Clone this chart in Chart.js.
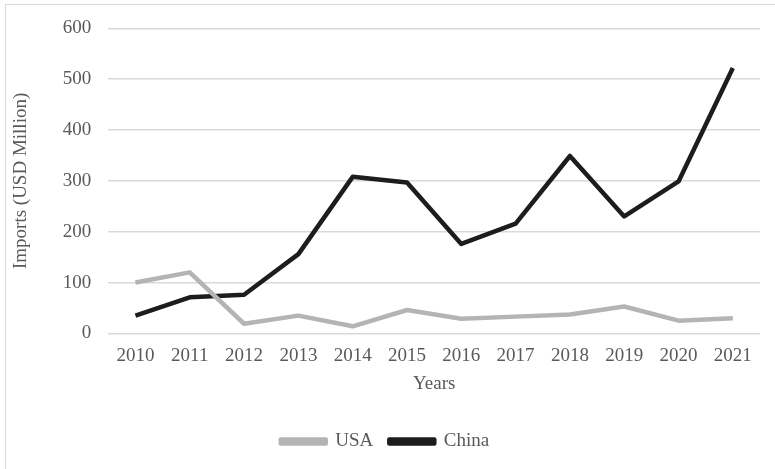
<!DOCTYPE html>
<html>
<head>
<meta charset="utf-8">
<script src="https://cdn.jsdelivr.net/npm/chart.js@4"></script>
<style>
  html, body { margin: 0; padding: 0; background: #fff; overflow: hidden; }
  #wrap { position: relative; width: 775px; height: 469px; overflow: hidden; }
  #frame { position: absolute; left: 5px; top: 4px; width: 800px; height: 500px; border: 1px solid #d9d9d9; box-sizing: border-box; }
  #pollChart { position: absolute; left: 0; top: 0; }
</style>
</head>
<body>
<div id="wrap">
  <div id="frame"></div>
  <canvas id="pollChart" width="775" height="469"></canvas>
</div>
<script>
// Data
const years = ['2010', '2011', '2012', '2013', '2014', '2015', '2016', '2017', '2018', '2019', '2020', '2021'];
const usaData = [100, 120, 19, 35, 14, 46, 29, 33, 37, 53, 25, 30];
const chinaData = [35, 71, 76, 156, 308, 297, 176, 216, 349, 230, 299, 522];

const textColor = '#595959';
const serif = "'Liberation Serif', 'Times New Roman', serif";

Chart.defaults.font.family = serif;
Chart.defaults.font.size = 19;
Chart.defaults.color = textColor;

const ctx = document.getElementById('pollChart').getContext('2d');
const chart = new Chart(ctx, {
    type: 'line',
    data: {
        labels: years,
        datasets: [
            {
                label: 'USA',
                data: usaData,
                borderColor: '#b4b4b6',
                backgroundColor: '#b4b4b6',
                borderWidth: 4.5,
                pointRadius: 0,
                tension: 0,
                fill: false,
            },
            {
                label: 'China',
                data: chinaData,
                borderColor: '#1f1c1d',
                backgroundColor: '#1f1c1d',
                borderWidth: 4.5,
                pointRadius: 0,
                tension: 0,
                fill: false,
            }
        ]
    },
    options: {
        responsive: false,
        animation: false,
        borderJoinStyle: 'round',
        layout: {
            padding: { left: 10, right: 15, top: 12, bottom: 8 }
        },
        plugins: {
            legend: {
                position: 'bottom',
                labels: {
                    boxWidth: 45,
                    boxHeight: 4,
                    padding: 16,
                    color: textColor,
                    font: { size: 19, family: serif }
                }
            },
            tooltip: { enabled: false }
        },
        scales: {
            x: {
                offset: true,
                grid: { display: false },
                border: { display: false },
                ticks: { padding: 3, maxRotation: 0 },
                title: {
                    display: true,
                    text: 'Years',
                    padding: { top: 2, bottom: 21 }
                }
            },
            y: {
                min: 0,
                max: 600,
                ticks: { stepSize: 100, padding: 17 },
                grid: { color: '#d9d9d9', lineWidth: 1.5, drawTicks: false },
                border: { display: false },
                title: {
                    display: true,
                    text: 'Imports (USD Million)',
                    padding: { top: 0, bottom: 13 }
                }
            }
        }
    }
});
</script>
</body>
</html>
